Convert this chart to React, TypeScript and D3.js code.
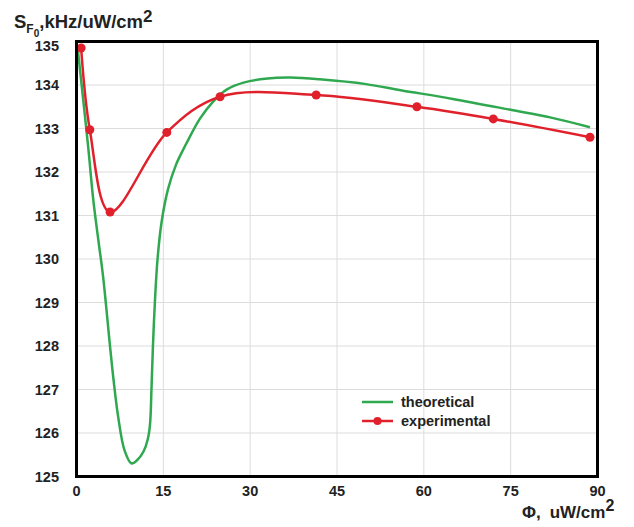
import React from "react";
import * as d3 from "d3";

const expX = [0.8, 2.3, 5.8, 15.6, 24.8, 41.4, 58.8, 72.0, 88.7];
const expY = [134.85, 132.97, 131.08, 132.91, 133.73, 133.77, 133.5, 133.22, 132.8];

const theoX = [0.2, 2.0, 2.9, 3.77, 4.6, 5.8, 6.4, 7.2, 8.3, 9.5, 10.5, 11.6, 12.3, 12.7, 12.95, 13.2, 13.56, 14.0, 14.7, 15.8, 17.2, 19.0, 21.3, 23.6, 26, 29, 33, 37, 42, 50, 56, 65, 75, 82, 88.7];
const theoY = [134.85, 132.6, 131.36, 130.44, 129.59, 127.98, 127.22, 126.37, 125.6, 125.3, 125.38, 125.58, 125.85, 126.2, 127.0, 127.98, 129.06, 130.0, 130.85, 131.6, 132.17, 132.66, 133.22, 133.62, 133.9, 134.06, 134.15, 134.17, 134.13, 134.02, 133.88, 133.68, 133.43, 133.25, 133.03];

const xTicks = [0, 15, 30, 45, 60, 75, 90];
const yTicks = [125, 126, 127, 128, 129, 130, 131, 132, 133, 134, 135];

const seriesNames = ["theoretical", "experimental"];
const GREEN = "#2fa84f";
const RED = "#e0212b";

export default function App() {
  const x = d3.scaleLinear().domain([0, 90]).range([76.5, 597.5]);
  const y = d3.scaleLinear().domain([125, 135]).range([476.5, 41.5]);
  const font = "'Liberation Sans', Arial, sans-serif";

  const theo = theoX.map((v, i) => [v, theoY[i]] as [number, number]);
  const exp = expX.map((v, i) => [v, expY[i]] as [number, number]);

  const theoLine = d3
    .line<[number, number]>()
    .x((d) => x(d[0]))
    .y((d) => y(d[1]))
    .curve(d3.curveCatmullRom.alpha(0.5))(theo) as string;
  const expLine = d3
    .line<[number, number]>()
    .x((d) => x(d[0]))
    .y((d) => y(d[1]))
    .curve(d3.curveCatmullRom.alpha(0.5))(exp) as string;

  const [x0, x1] = x.range();
  const [yb, yt] = y.range();

  return (
    <svg
      width={634}
      height={527}
      style={{ position: "absolute", left: 0, top: 0, background: "#fff" }}
      fontFamily={font}
    >
      <rect x={0} y={0} width={634} height={527} fill="#fff" />
      {/* grid */}
      {xTicks.slice(1, -1).map((t) => (
        <line key={"gx" + t} x1={x(t)} x2={x(t)} y1={yt} y2={yb} stroke="#dcdcdc" strokeWidth={1} />
      ))}
      {yTicks.slice(1, -1).map((t) => (
        <line key={"gy" + t} x1={x0} x2={x1} y1={y(t)} y2={y(t)} stroke="#dcdcdc" strokeWidth={1} />
      ))}
      {/* curves */}
      <path d={theoLine} fill="none" stroke={GREEN} strokeWidth={2.5} strokeLinejoin="round" />
      <path d={expLine} fill="none" stroke={RED} strokeWidth={2.5} strokeLinejoin="round" />
      {exp.map((d, i) => (
        <circle key={"p" + i} cx={x(d[0])} cy={y(d[1])} r={4.5} fill={RED} />
      ))}
      {/* frame */}
      <rect x={x0} y={yt} width={x1 - x0} height={yb - yt} fill="none" stroke="#000" strokeWidth={3} />
      {/* y tick labels */}
      {yTicks.map((t) => (
        <text
          key={"yl" + t}
          x={59}
          y={Math.max(y(t), 46)}
          dy="0.35em"
          textAnchor="end"
          fontSize={14.5}
          fontWeight="bold"
          fill="#222"
        >
          {t}
        </text>
      ))}
      {/* x tick labels */}
      {xTicks.map((t) => (
        <text
          key={"xl" + t}
          x={x(t)}
          y={491}
          dy="0.35em"
          textAnchor="middle"
          fontSize={14.5}
          fontWeight="bold"
          fill="#222"
        >
          {t}
        </text>
      ))}
      {/* axis titles */}
      <text x={14} y={28} fontSize={18.5} fontWeight="bold" fill="#222">
        S
        <tspan dy={5} fontSize={12}>F</tspan>
        <tspan dy={4} fontSize={10}>0</tspan>
        <tspan dy={-9} fontSize={18.5}>,kHz/uW/cm</tspan>
        <tspan dy={-6} fontSize={17}>2</tspan>
      </text>
      <text x={522} y={518} fontSize={17} fontWeight="bold" fill="#222">
        Φ,
        <tspan dx={9}>uW/cm</tspan>
        <tspan dy={-7} fontSize={16}>2</tspan>
      </text>
      {/* legend */}
      <line x1={362} x2={393} y1={402} y2={402} stroke={GREEN} strokeWidth={2.5} />
      <text x={401} y={402} dy="0.35em" fontSize={14.5} fontWeight="bold" fill="#222">
        {seriesNames[0]}
      </text>
      <line x1={362} x2={393} y1={421} y2={421} stroke={RED} strokeWidth={2.5} />
      <circle cx={377.5} cy={421} r={4} fill={RED} />
      <text x={401} y={421} dy="0.35em" fontSize={14.5} fontWeight="bold" fill="#222">
        {seriesNames[1]}
      </text>
    </svg>
  );
}
